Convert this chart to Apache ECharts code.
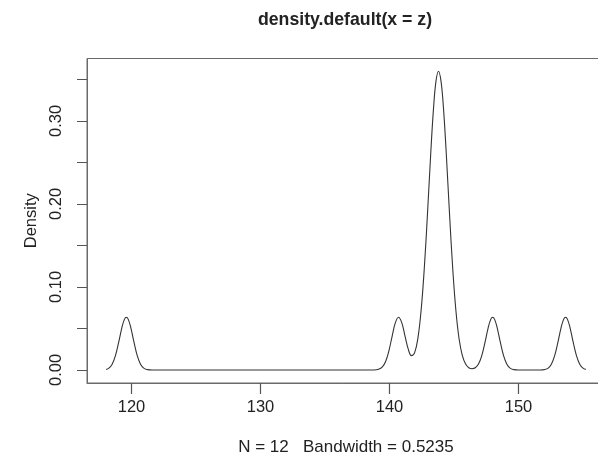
<!DOCTYPE html>
<html>
<head>
<meta charset="utf-8">
<script src="https://cdn.jsdelivr.net/npm/echarts@6/dist/echarts.min.js"></script>
<style>
  html, body { margin: 0; padding: 0; background: #ffffff; }
  #chart { width: 598px; height: 473px; }
</style>
</head>
<body>
<div id="chart"></div>
<script>
// Kernel density estimate of z (N = 12, bandwidth 0.5235): sampled curve
const densityX = [
  118.03, 118.25, 118.5, 118.75, 119.0, 119.25, 119.45, 119.6, 119.75, 119.95,
  120.2, 120.45, 120.7, 120.95, 121.25, 121.6,
  125.0, 130.0, 135.0, 138.8,
  139.15, 139.45, 139.7, 139.95, 140.2, 140.45, 140.7, 140.95, 141.2, 141.45,
  141.7, 141.95, 142.2, 142.45, 142.7, 142.95, 143.2, 143.4, 143.6, 143.8,
  144.0, 144.2, 144.4, 144.65, 144.9, 145.15, 145.4, 145.65, 145.9, 146.15,
  146.4, 146.65, 146.9, 147.15, 147.4, 147.65, 147.85, 148.0, 148.15, 148.35,
  148.6, 148.85, 149.1, 149.35, 149.65, 150.0,
  151.0, 151.7,
  152.05, 152.3, 152.55, 152.8, 153.05, 153.3, 153.5, 153.65, 153.8, 154.0,
  154.25, 154.5, 154.75, 155.0, 155.22
];
const densityY = [
  0.0006, 0.0023, 0.0070, 0.0170, 0.0329, 0.0508, 0.0610, 0.0635, 0.0610, 0.0508,
  0.0329, 0.0170, 0.0070, 0.0023, 0.0004, 0.0000,
  0.0000, 0.0000, 0.0000, 0.0000,
  0.0008, 0.0037, 0.0102, 0.0228, 0.0403, 0.0567, 0.0636, 0.0570, 0.0412, 0.0254,
  0.0173, 0.0209, 0.0380, 0.0715, 0.1228, 0.1894, 0.2614, 0.3122, 0.3474, 0.3600,
  0.3474, 0.3122, 0.2614, 0.1894, 0.1228, 0.0713, 0.0370, 0.0172, 0.0071, 0.0027,
  0.0015, 0.0026, 0.0071, 0.0170, 0.0329, 0.0508, 0.0610, 0.0635, 0.0610, 0.0508,
  0.0329, 0.0170, 0.0070, 0.0023, 0.0004, 0.0000,
  0.0000, 0.0000,
  0.0006, 0.0023, 0.0070, 0.0170, 0.0329, 0.0508, 0.0610, 0.0635, 0.0610, 0.0508,
  0.0329, 0.0170, 0.0070, 0.0023, 0.0007
];

// Axis ticks and labels
const xTicks = [120, 130, 140, 150];
const yTicks = [0, 0.05, 0.10, 0.15, 0.20, 0.25, 0.30, 0.35];
const yLabels = [0, 0.10, 0.20, 0.30];

const titleText = 'density.default(x = z)';
const xAxisTitle = 'N = 12   Bandwidth = 0.5235';
const yAxisTitle = 'Density';

const points = densityX.map((x, i) => [x, densityY[i]]);

const FONT = '"Liberation Sans", Arial, Helvetica, sans-serif';
const INK = '#222222';
const FRAME = '#6a6a6a';
const TICK = '#555555';
const X_MIN = 116.55;
const Y_MIN = -0.0157;
const X_TICK_LEN = 11;

const chart = echarts.init(document.getElementById('chart'), null, { renderer: 'canvas' });

chart.setOption({
  animation: false,
  backgroundColor: '#ffffff',
  title: {
    text: titleText,
    left: 340,
    top: 6,
    textAlign: 'center',
    textStyle: { fontFamily: FONT, fontSize: 17.7, fontWeight: 'bold', color: INK }
  },
  grid: {
    left: 87,
    top: 58.5,
    width: 517.9,
    height: 324.5,
    containLabel: false,
    outerBoundsMode: 'none',
    show: true,
    borderColor: FRAME,
    borderWidth: 1,
    backgroundColor: 'transparent'
  },
  xAxis: {
    type: 'value',
    position: 'bottom',
    min: X_MIN,
    max: 156.70,
    name: xAxisTitle,
    nameLocation: 'middle',
    nameGap: 56,
    nameTextStyle: { fontFamily: FONT, fontSize: 17, color: INK },
    axisLine: { show: true, onZero: false, lineStyle: { color: FRAME, width: 1 } },
    splitLine: { show: false },
    axisTick: { show: false },
    axisLabel: {
      show: true,
      customValues: xTicks,
      margin: 16,
      fontFamily: FONT,
      fontSize: 16.5,
      color: INK,
      formatter: v => String(v)
    }
  },
  yAxis: {
    type: 'value',
    position: 'left',
    min: Y_MIN,
    max: 0.3753,
    name: yAxisTitle,
    nameLocation: 'middle',
    nameGap: 47,
    nameTextStyle: { fontFamily: FONT, fontSize: 16.5, color: INK },
    axisLine: { show: true, onZero: false, lineStyle: { color: FRAME, width: 1 } },
    splitLine: { show: false },
    axisTick: {
      show: true,
      inside: false,
      length: 10,
      customValues: yTicks,
      lineStyle: { color: TICK, width: 1 }
    },
    axisLabel: {
      show: true,
      customValues: yLabels,
      rotate: 90,
      margin: 22,
      fontFamily: FONT,
      fontSize: 16.5,
      color: INK,
      formatter: v => v.toFixed(2)
    }
  },
  series: [
    {
      type: 'line',
      data: points,
      showSymbol: false,
      smooth: 0.4,
      clip: true,
      lineStyle: { color: '#333333', width: 1.1 }
    },
    {
      // outward tick marks hanging below the bottom frame
      type: 'scatter',
      data: xTicks.map(v => [v, Y_MIN]),
      symbol: 'rect',
      symbolSize: [1.2, X_TICK_LEN],
      symbolOffset: [0, X_TICK_LEN / 2],
      clip: false,
      silent: true,
      z: 10,
      itemStyle: { color: TICK, opacity: 1 },
      emphasis: { disabled: true }
    }
  ]
});
</script>
</body>
</html>
